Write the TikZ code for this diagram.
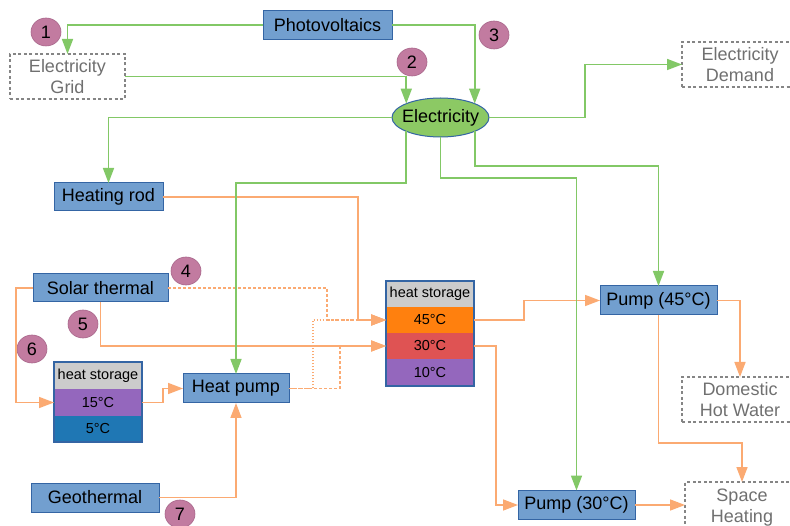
\documentclass[tikz,border=0pt]{standalone}
\usepackage{fontspec}
\setmainfont{Liberation Sans}
\usetikzlibrary{arrows.meta,shapes.geometric,calc}
\definecolor{boxblue}{HTML}{729FCF}
\definecolor{boxline}{HTML}{3465A4}
\definecolor{elgreen}{HTML}{82C866}
\definecolor{elfill}{HTML}{8CC964}
\definecolor{heatorange}{HTML}{FBAA72}
\definecolor{badgefill}{HTML}{C27BA0}
\definecolor{badgeline}{HTML}{A8668A}
\definecolor{hdr}{HTML}{CCCCCC}
\definecolor{t45}{HTML}{FF800E}
\definecolor{t30}{HTML}{DF5353}
\definecolor{tpurple}{HTML}{9467BD}
\definecolor{t5}{HTML}{1F77B4}
\definecolor{ghost}{HTML}{858585}
\definecolor{ghosttext}{HTML}{707070}
\begin{document}
\begin{tikzpicture}[x=1pt,y=-1pt,
 every node/.style={inner sep=0pt, outer sep=0pt},
 bluebox/.style={draw=boxline, fill=boxblue, line width=1pt, font=\fontsize{18}{21}\selectfont, minimum height=29pt},
 ghostbox/.style={draw=ghost, line width=1.5pt, dash pattern=on 3pt off 2.5pt, text=ghosttext, align=center, font=\fontsize{18}{21}\selectfont, minimum height=45pt},
 badgenode/.style={ellipse, draw=badgeline, fill=badgefill, line width=0.6pt, minimum width=30pt, minimum height=28pt, font=\fontsize{18}{21}\selectfont},
 cell/.style={minimum width=88pt, minimum height=26pt, font=\fontsize{14.5}{16}\selectfont},
 storeframe/.style={draw=boxline, line width=1.2pt},
 gline/.style={draw=elgreen, line width=1.6pt, -{Triangle[length=15pt,width=11pt]}},
 oline/.style={draw=heatorange, line width=1.6pt, -{Triangle[length=15pt,width=11pt]}},
 odash/.style={oline, line width=1.3pt, dash pattern=on 3pt off 2pt},
 odot/.style={oline, line width=1.3pt, dash pattern=on 1.5pt off 1.5pt},
]
\fill[white] (0,0) rectangle (790,526);
\useasboundingbox (0,0) rectangle (790,526);

% nodes
\node[bluebox, minimum width=129pt] (pv) at (327.5,25) {Photovoltaics};
\node[ghostbox, minimum width=115pt] (grid) at (67.5,76.5) {Electricity\\Grid};
\node[ellipse, draw=boxline, fill=elfill, line width=1pt, minimum width=97pt, minimum height=39pt, font=\fontsize{18}{21}\selectfont] (elec) at (440.5,117.5) {\makebox[0pt]{Electricity}};
\node[ghostbox, minimum width=116pt] (demand) at (740,64.5) {Electricity\\Demand};
\node[bluebox, minimum width=109pt, minimum height=28pt] (hrod) at (108.5,197) {Heating rod};
\node[bluebox, minimum width=135pt, minimum height=28pt] (solar) at (100.5,288) {Solar thermal};
\node[bluebox, minimum width=128pt] (geo) at (95,497.5) {Geothermal};
\node[bluebox, minimum width=106pt] (hp) at (236,388.5) {Heat pump};
\node[bluebox, minimum width=117pt] (p45) at (658.5,300.5) {Pump (45°C)};
\node[bluebox, minimum width=117pt] (p30) at (576.5,505) {Pump (30°C)};
\node[ghostbox, minimum width=116pt] (dhw) at (740,399.5) {Domestic\\Hot Water};
\node[ghostbox, minimum width=114pt, minimum height=52pt] (sh) at (742,508) {Space\\Heating};

% big heat storage
\node[cell, fill=hdr] (hsh) at (430,294) {heat storage};
\node[cell, fill=t45] (h45) at (430,320) {45°C};
\node[cell, fill=t30] (h30) at (430,346) {30°C};
\node[cell, fill=tpurple, minimum height=27pt] (h10) at (430,372.5) {10°C};
\draw[storeframe] (hsh.north west) rectangle (h10.south east);

% small heat storage
\node[cell, fill=hdr, minimum height=27pt] (ssh) at (98,375.5) {heat storage};
\node[cell, fill=tpurple, minimum height=27pt] (s15) at (98,402.5) {15°C};
\node[cell, fill=t5] (s5) at (98,429) {5°C};
\draw[storeframe] (ssh.north west) rectangle (s5.south east);

% badges
\node[badgenode] (b1) at (46,32) {1};
\node[badgenode] (b2) at (412,62) {2};
\node[badgenode] (b3) at (494,35) {3};
\node[badgenode] (b4) at (186,271) {4};
\node[badgenode] (b5) at (83,324) {5};
\node[badgenode] (b6) at (32,349) {6};
\node[badgenode] (b7) at (180,514) {7};

% heat connectors
\draw[oline] (hrod.east) -| ($(h45.west)+(-28,0)$) -- (h45.west);
\draw[odash] (solar.east) -| ($(h45.west)+(-59,0)$) -- (h45.west);
\draw[oline] (solar.south) |- (h30.west);
\draw[oline] (solar.west) -- ++(-17,0) |- (s15.west);
\draw[oline] (s15.east) -- ++(21,0) |- (hp.west);
\draw[oline] (geo.east) -| (hp.south);
\draw[odot] (hp.east) -| ($(h45.west)+(-73,0)$) -- (h45.west);
\draw[odash] (hp.east) -| ($(h30.west)+(-46,0)$) -- (h30.west);
\draw[oline] (h45.east) -- ++(50,0) |- (p45.west);
\draw[oline] (h30.east) -- ++(22,0) |- (p30.west);
\draw[oline] (p30.east) -- (p30.east -| sh.west);
\draw[oline] (p45.east) -| (dhw.north);
\draw[oline] (p45.south) -- ($(p45.south)+(0,128)$) -| (sh.north);

% electricity connectors
\draw[gline] (pv.west) -| (grid.north);
\draw[gline] (pv.east) -| (elec.22);
\draw[gline] (grid.east) -| (elec.158);
\draw[gline] (elec.east) -- ++(96,0) |- (demand.west);
\draw[gline] (elec.west) -| (hrod.north);
\draw[gline] (elec.202) -- (elec.202 |- 0,183) -| (hp.north);
\draw[gline] (elec.south) -- (elec.south |- 0,178) -| (p30.north);
\draw[gline] (elec.-22) -- (elec.-22 |- 0,166) -| (p45.north);
\end{tikzpicture}
\end{document}
